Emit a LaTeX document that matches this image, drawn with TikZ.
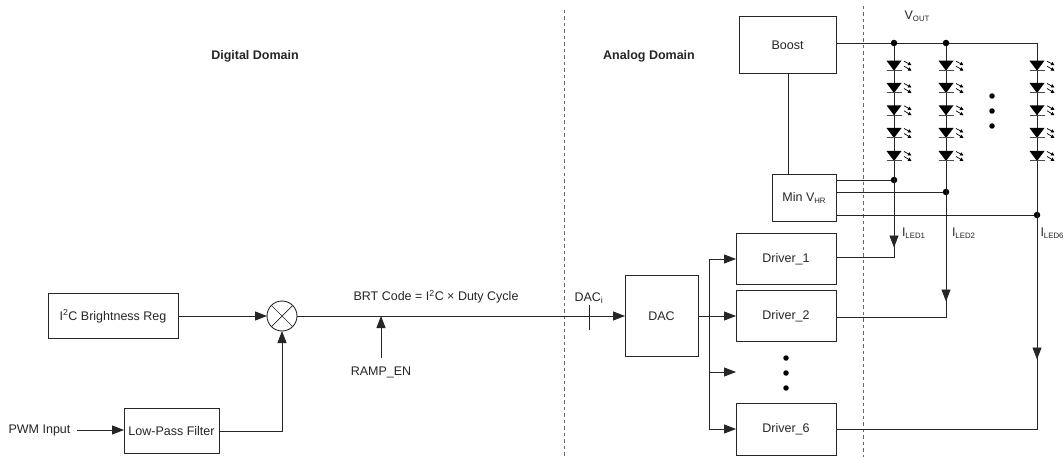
\documentclass[tikz,border=0pt]{standalone}
\usepackage{fontspec}
\setmainfont{Liberation Sans}
\usetikzlibrary{arrows.meta,calc}
\tikzset{
  x=1pt,y=-1pt,
  every node/.style={font=\fontsize{12.5}{14}\selectfont,text=black!85,inner sep=0pt,outer sep=0pt},
  wire/.style={line width=0.9pt,draw=black!85},
  arr/.style={wire,-{Triangle[length=12pt,width=9pt]}},
  block/.style={draw=black!85,line width=0.9pt,fill=white,anchor=north west},
  domline/.style={line width=1pt,draw=black!60,dash pattern=on 3.5pt off 3pt},
  tap/.style={circle,fill=black,minimum size=6.5pt},
  dotn/.style={circle,fill=black,minimum size=5.5pt},
  ray/.style={line width=0.7pt,draw=black,-{Triangle[length=3.5pt,width=3.5pt]}}
}
\newcommand{\subled}[1]{\raisebox{-2.2pt}{\fontsize{7.8}{9}\selectfont #1}}
\newcommand{\boxat}[6]{\node[block,minimum width=#4-#3,minimum height=#6-#5] (#1) at (#3,#5) {}; \node[yshift=-0.7pt] at (#1.center) {#2};}
\newcommand{\led}[3]{%
  \coordinate (#1) at (#2,#3);
  \fill[black] ($(#1)+(-7.5,-10)$) -- ($(#1)+(7.5,-10)$) -- (#1) -- cycle;
  \draw[line width=1pt,draw=black!70] ($(#1)+(-7.5,0)$) -- ($(#1)+(7.5,0)$);
  \draw[ray] ($(#1)+(10,-9.5)$) -- ($(#1)+(17.5,-5.5)$);
  \draw[ray] ($(#1)+(10,-4.5)$) -- ($(#1)+(17.5,0)$);
}
\begin{document}
\begin{tikzpicture}
\useasboundingbox (0,0) rectangle (1064,457);
\clip (0,0) rectangle (1064,457);
\fill[white] (0,0) rectangle (1064,457);

% domains
\coordinate (d1t) at (564,10); \coordinate (d1b) at (564,457);
\coordinate (d2t) at (863,6);  \coordinate (d2b) at (863,457);
\draw[domline] (d1t) -- (d1b);
\draw[domline] (d2t) -- (d2b);

\node (digital) at (255,56) {\bfseries Digital Domain};
\node (analog) at (649,56) {\bfseries Analog Domain};

% blocks
\boxat{boost}{Boost}{739}{836}{16}{73}
\boxat{minv}{Min V\subled{HR}}{772}{836}{174}{221}
\boxat{drv1}{Driver\_1}{736}{836}{233}{284}
\boxat{drv2}{Driver\_2}{736}{836}{290}{341}
\boxat{drv6}{Driver\_6}{736}{836}{403}{455}
\boxat{dac}{DAC}{625}{698}{275}{356}
\boxat{i2c}{I\textsuperscript{2}C Brightness Reg}{48}{178}{293}{338}
\boxat{lpf}{Low-Pass Filter}{124}{219}{408}{453}

% multiplier
\node[circle,draw=black!85,line width=0.9pt,minimum size=30pt] (mult) at (282,316) {};
\draw[line width=0.7pt,draw=black!85] (mult.north east) -- (mult.south west);
\draw[line width=0.7pt,draw=black!85] (mult.north west) -- (mult.south east);

% left signal path
\node (pwm) at (39.5,430) {PWM Input};
\coordinate (pwmend) at (77,430);
\draw[arr] (pwmend) -- (lpf.west |- pwmend);
\draw[arr] (i2c.east |- mult) -- (mult.west);
\coordinate (lpfout) at (219,431);
\draw[arr] (lpfout) -| (mult.south);
\coordinate (dacin) at (625,316);
\draw[arr] (mult.east) -- (dacin);

\node (brt) at (436,296.7) {BRT Code = I\textsuperscript{2}C × Duty Cycle};
\node (ramp) at (381,372) {RAMP\_EN};
\coordinate (rampstart) at (381,358);
\coordinate (ramptip) at (381,316);
\draw[arr] (rampstart) -- (ramptip);
\node (daci) at (589,298) {DAC\textsubscript{i}};
\coordinate (ticka) at (589,305); \coordinate (tickb) at (589,330);
\draw[wire] (ticka) -- (tickb);

% DAC to drivers
\coordinate (bust) at (709,259);
\coordinate (busm) at (709,316);
\coordinate (busd) at (709,372);
\coordinate (busb) at (709,429);
\coordinate (midtip) at (736,372);
\draw[wire] (dac.east |- busm) -- (busm);
\draw[arr] (bust) -- (drv1.west |- bust);
\draw[arr] (busm) -- (drv2.west |- busm);
\draw[arr] (busd) -- (midtip);
\draw[wire] (bust) -- (busb);
\draw[arr] (busb) -- (drv6.west |- busb);

\node[dotn] (dv1) at (786,358) {};
\node[dotn] (dv2) at (786,373) {};
\node[dotn] (dv3) at (786,388) {};

% Boost and strings
\coordinate (bm) at (788,73);
\coordinate (mm) at (788,174);
\draw[wire] (bm) -- (mm);

\node[tap] (v1) at (894,43) {};
\node[tap] (v2) at (946,43) {};
\coordinate (v3) at (1037,43);
\node (vout) at (917,16) {V\subled{OUT}};
\draw[wire] (boost.east |- v1) -- (v1) -- (v2) -- (v3);

\coordinate (e1) at (894,257);
\coordinate (e2) at (946,317);
\coordinate (e3) at (1037,429);
\node[tap] (f1) at (894,180) {};
\node[tap] (f2) at (946,192) {};
\node[tap] (f3) at (1037,215) {};
\draw[wire] (minv.east |- f1) -- (f1);
\draw[wire] (minv.east |- f2) -- (f2);
\draw[wire] (minv.east |- f3) -- (f3);

\draw[wire] (v1) -- (e1) -- (drv1.east |- e1);
\draw[wire] (v2) -- (e2) -- (drv2.east |- e2);
\draw[wire] (v3) -- (e3) -- (drv6.east |- e3);

\coordinate (a1s) at (894,225); \coordinate (a1t) at (894,247.5);
\coordinate (a2s) at (946,275); \coordinate (a2t) at (946,301.5);
\coordinate (a3s) at (1037,335); \coordinate (a3t) at (1037,359.5);
\draw[arr] (a1s) -- (a1t);
\draw[arr] (a2s) -- (a2t);
\draw[arr] (a3s) -- (a3t);

\node[anchor=west] (i1) at (902,233) {I\subled{LED1}};
\node[anchor=west] (i2) at (952,233) {I\subled{LED2}};
\node[anchor=west] (i3) at (1040.5,233) {I\subled{LED6}};

\foreach \c/\xx in {a/894,b/946,c/1037}{
  \foreach \n/\yy in {1/70.7,2/93,3/115.3,4/138,5/161}{
    \led{led\c\n}{\xx}{\yy}
  }
}
\node[dotn] (s1) at (992,96) {};
\node[dotn] (s2) at (992,111) {};
\node[dotn] (s3) at (992,126) {};
\end{tikzpicture}
\end{document}
